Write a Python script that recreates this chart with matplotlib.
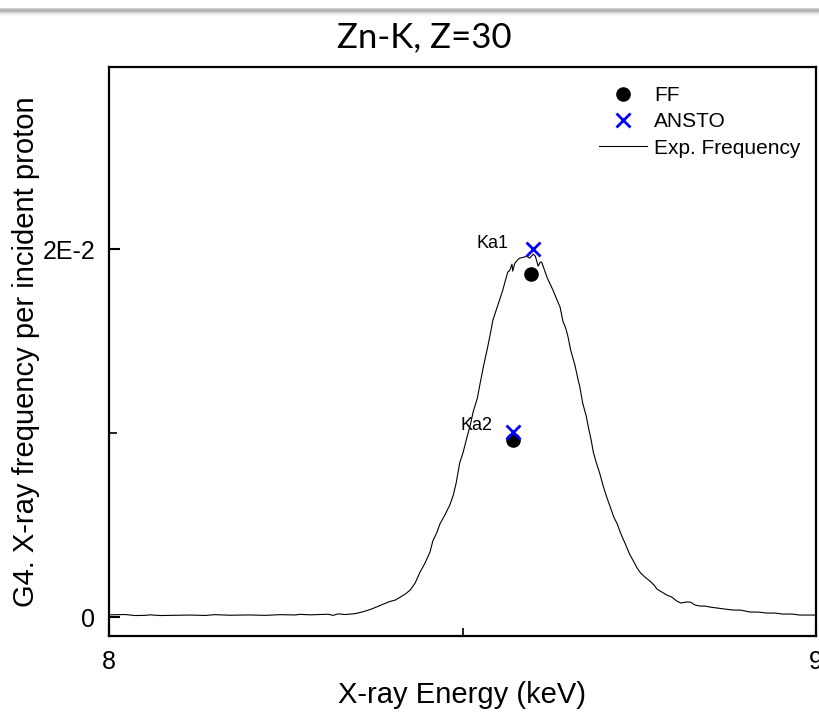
import numpy as np
import matplotlib
matplotlib.use('agg')
import matplotlib.pyplot as plt
from matplotlib.lines import Line2D

plt.rcParams['font.family'] = ['Liberation Sans', 'DejaVu Sans']

# measured spectrum (keV, frequency in 1E-3 per proton)
energy = [8.000, 8.023, 8.037, 8.051, 8.058, 8.072, 8.093, 8.115, 8.136, 8.150,
          8.171, 8.199, 8.221, 8.242, 8.263, 8.270, 8.284, 8.298, 8.310, 8.317,
          8.324, 8.334, 8.348, 8.355, 8.365, 8.373, 8.383, 8.390, 8.397, 8.405,
          8.412, 8.419, 8.426, 8.433, 8.440, 8.447, 8.454, 8.458, 8.464, 8.468,
          8.475, 8.482, 8.487, 8.491, 8.496, 8.501, 8.506, 8.511, 8.515, 8.521,
          8.525, 8.530, 8.535, 8.539, 8.543, 8.549, 8.553, 8.557, 8.560, 8.564,
          8.567, 8.570, 8.571, 8.574, 8.579, 8.581, 8.587, 8.591, 8.595, 8.600,
          8.603, 8.607, 8.610, 8.612, 8.617, 8.620, 8.624, 8.628, 8.632, 8.638,
          8.642, 8.646, 8.649, 8.653, 8.659, 8.663, 8.666, 8.670, 8.675, 8.678,
          8.682, 8.685, 8.689, 8.694, 8.699, 8.704, 8.709, 8.714, 8.719, 8.723,
          8.726, 8.731, 8.737, 8.741, 8.747, 8.752, 8.758, 8.765, 8.771, 8.775,
          8.782, 8.789, 8.796, 8.803, 8.809, 8.816, 8.822, 8.829, 8.836, 8.843,
          8.850, 8.860, 8.871, 8.883, 8.893, 8.907, 8.918, 8.931, 8.942, 8.953,
          8.966, 8.977, 8.989, 9.000]
freq_e3 = [0.120, 0.136, 0.082, 0.092, 0.120, 0.082, 0.098, 0.109, 0.087, 0.130,
           0.098, 0.114, 0.092, 0.130, 0.114, 0.147, 0.120, 0.136, 0.152, 0.092,
           0.174, 0.136, 0.185, 0.245, 0.353, 0.462, 0.625, 0.734, 0.842, 0.924,
           1.087, 1.250, 1.467, 1.848, 2.446, 2.935, 3.533, 4.130, 4.620, 5.054,
           5.543, 6.087, 6.630, 7.283, 8.370, 8.967, 9.728, 10.435, 11.141, 11.902,
           12.717, 13.696, 14.565, 15.326, 16.141, 16.848, 17.337, 17.772, 18.207, 18.750,
           18.859, 19.185, 18.804, 19.239, 19.457, 19.511, 19.565, 19.620, 19.511, 19.728,
           19.620, 19.076, 19.293, 19.293, 18.750, 18.424, 18.098, 17.772, 17.391, 16.848,
           16.087, 15.707, 15.272, 14.511, 13.696, 12.989, 12.500, 11.630, 10.924, 10.326,
           9.620, 8.967, 8.424, 7.826, 7.120, 6.522, 5.978, 5.435, 5.054, 4.620,
           4.348, 3.913, 3.370, 3.098, 2.663, 2.391, 2.174, 1.957, 1.739, 1.522,
           1.359, 1.196, 1.087, 0.870, 0.761, 0.815, 0.815, 0.652, 0.598, 0.598,
           0.543, 0.489, 0.435, 0.380, 0.380, 0.272, 0.272, 0.217, 0.217, 0.163,
           0.163, 0.109, 0.109, 0.109]
freq = np.array(freq_e3) * 1e-3

lines = ['Ka1', 'Ka2']
line_energy = [8.600, 8.571]
ff_energy = [8.597, 8.571]
ff_freq = [0.01864, 0.00962]
ansto_freq = [0.0200, 0.01005]

fig = plt.figure(figsize=(8.19, 7.27), dpi=100)

# soft grey shadow strip along the top edge
strip = fig.add_axes([0, 1 - 18 / 727, 1, 18 / 727])
shade = np.concatenate([np.ones(8), [0.82, 0.72, 0.70, 0.74, 0.82, 0.90, 0.95, 0.98, 1.0, 1.0]])
strip.imshow(shade[:, None], cmap='gray', vmin=0, vmax=1, aspect='auto', extent=[0, 1, 0, 1])
strip.axis('off')

ax = fig.add_axes([109 / 819, 1 - 636 / 727, 707 / 819, 569 / 727])
ax.plot(energy, freq, color='black', lw=0.8)
ax.plot(ff_energy, ff_freq, 'o', color='black', ms=9.5, ls='none')
ax.plot(line_energy, ansto_freq, 'x', color='#0000ff', ms=10, mew=2, ls='none')

offsets = [(-25, 6), (-20, 7)]
for name, xe, yv, off in zip(lines, line_energy, ansto_freq, offsets):
    ax.annotate(name, (xe, yv), xytext=off, textcoords='offset pixels',
                ha='right', va='center', fontsize=13)

ax.set_xlim(8, 9)
ax.set_ylim(-0.00103, 0.0299)
ax.set_xticks([8, 9])
ax.set_xticklabels(['8', '9'])
ax.set_xticks([8.5], minor=True)
ax.set_yticks([0, 0.02])
ax.set_yticklabels(['0', '2E-2'])
ax.set_yticks([0.01], minor=True)
ax.tick_params(which='major', direction='in', length=8, width=1.5, labelsize=18, pad=10)
ax.tick_params(which='minor', direction='in', length=6, width=1.2)
for s in ax.spines.values():
    s.set_linewidth(1.6)

ax.set_xlabel('X-ray Energy (keV)', fontsize=21, labelpad=5)
ax.set_ylabel('G4. X-ray frequency per incident proton', fontsize=21, labelpad=2)

fig.text(424 / 819, 1 - 37 / 727, 'Zn-K, Z=30', ha='center', va='center',
         fontsize=25, family=['Lato', 'DejaVu Sans'])

handles = [Line2D([], [], marker='o', color='black', ms=9.5, ls='none'),
           Line2D([], [], marker='x', color='#0000ff', ms=10, mew=2, ls='none'),
           Line2D([], [], color='black', lw=0.8)]
fig.legend(handles, ['FF', 'ANSTO', 'Exp. Frequency'], loc='upper left',
           bbox_to_anchor=(599 / 819, 1 - 86 / 727), frameon=False, fontsize=15,
           borderpad=0, borderaxespad=0, handlelength=2.3, handletextpad=0.35,
           labelspacing=0.35)

fig.savefig('out.png', dpi=100)
